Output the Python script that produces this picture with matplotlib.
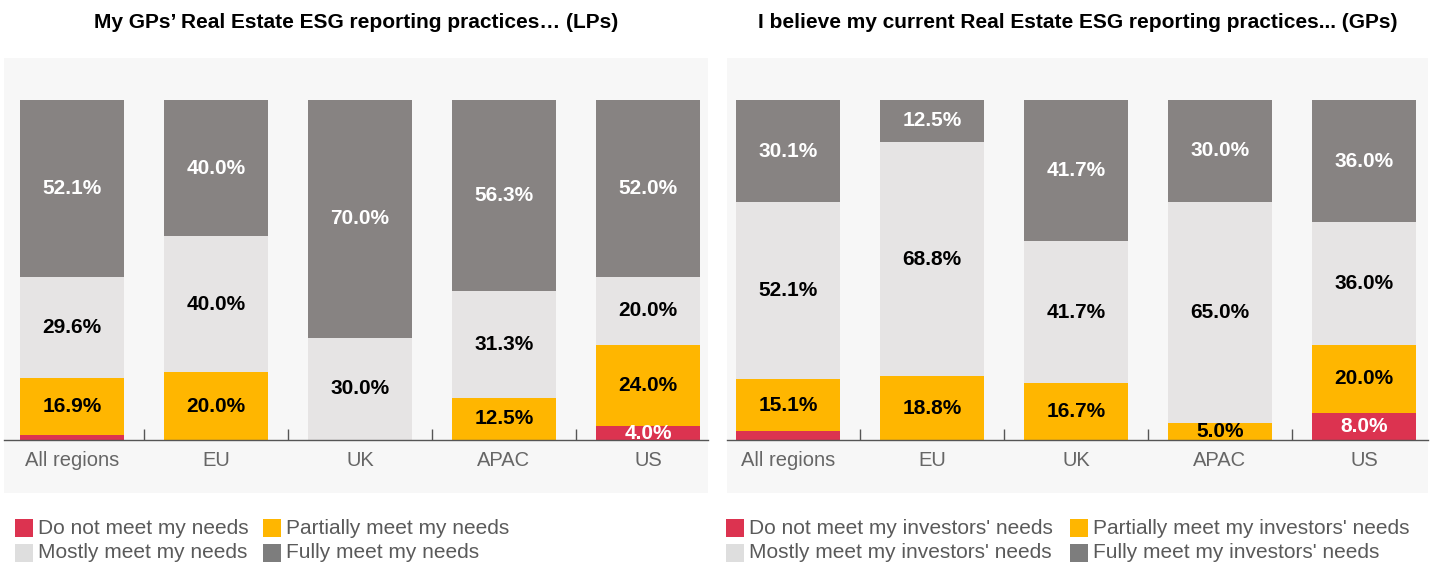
import matplotlib
matplotlib.use("Agg")
import matplotlib.pyplot as plt
from matplotlib.patches import Rectangle
import numpy as np

plt.rcParams['font.family'] = ['Liberation Sans', 'DejaVu Sans']

regions = ["All regions", "EU", "UK", "APAC", "US"]

# LP survey: "My GPs' Real Estate ESG reporting practices..."
lp_do_not = [1.4, 0.0, 0.0, 0.0, 4.0]
lp_partially = [16.9, 20.0, 0.0, 12.5, 24.0]
lp_mostly = [29.6, 40.0, 30.0, 31.3, 20.0]
lp_fully = [52.1, 40.0, 70.0, 56.3, 52.0]

# GP survey: "I believe my current Real Estate ESG reporting practices..."
gp_do_not = [2.7, 0.0, 0.0, 0.0, 8.0]
gp_partially = [15.1, 18.8, 16.7, 5.0, 20.0]
gp_mostly = [52.1, 68.8, 41.7, 65.0, 36.0]
gp_fully = [30.1, 12.5, 41.7, 30.0, 36.0]

lp_legend = ["Do not meet my needs", "Partially meet my needs",
             "Mostly meet my needs", "Fully meet my needs"]
gp_legend = ["Do not meet my investors' needs", "Partially meet my investors' needs",
             "Mostly meet my investors' needs", "Fully meet my investors' needs"]

lp_title = "My GPs\u2019 Real Estate ESG reporting practices\u2026 (LPs)"
gp_title = "I believe my current Real Estate ESG reporting practices... (GPs)"

colors = ["#dc3350", "#ffb600", "#e6e4e4", "#878382"]
legend_colors = ["#dc3350", "#ffb600", "#dedede", "#7d7d7d"]
text_colors = ["white", "black", "black", "white"]

W, H = 1432, 564
fig = plt.figure(figsize=(W / 100, H / 100), dpi=100)
fig.patch.set_facecolor("white")

BG = "#f7f7f7"
PX_PER_UNIT = 144.0   # horizontal pixels per category
PX_PER_PCT = 3.4      # vertical pixels per percentage point
BASE_Y = 440          # baseline, pixels from top


def px_axes(x0, x1, y0, y1):
    return fig.add_axes([x0 / W, 1 - y1 / H, (x1 - x0) / W, (y1 - y0) / H])


def draw_panel(x0, x1, first_center, series, title, legend_labels, legend_x, col2_x):
    y0, y1 = 58, 493
    ax = px_axes(x0, x1, y0, y1)
    ax.set_facecolor(BG)
    left = (x0 - first_center) / PX_PER_UNIT
    ax.set_xlim(left, left + (x1 - x0) / PX_PER_UNIT)
    ax.set_ylim(-(y1 - BASE_Y) / PX_PER_PCT, (BASE_Y - y0) / PX_PER_PCT)

    x = np.arange(len(regions))
    bottom = np.zeros(len(regions))
    for vals, col, tcol in zip(series, colors, text_colors):
        vals = np.array(vals)
        ax.bar(x, vals, width=0.72, bottom=bottom, color=col, linewidth=0, zorder=2)
        for xi, v, b in zip(x, vals, bottom):
            if v >= 4:
                ax.text(xi, b + v / 2, f"{v:.1f}%", ha="center", va="center",
                        fontsize=15, fontweight="bold", color=tcol, zorder=3)
        bottom = bottom + vals

    for s in ["top", "left", "right"]:
        ax.spines[s].set_visible(False)
    ax.spines["bottom"].set_position(("data", 0))
    ax.spines["bottom"].set_color("#555555")
    ax.spines["bottom"].set_linewidth(1)
    ax.spines["bottom"].set_zorder(4)
    ax.set_yticks([])
    ax.set_xticks(x[:-1] + 0.5)
    ax.set_xticklabels([])
    ax.tick_params(axis="x", direction="in", length=8, width=1, color="#555555")
    for xi, name in zip(x, regions):
        ax.text(xi, -21 / PX_PER_PCT, name, ha="center", va="center",
                fontsize=14.5, color="#666666")

    # panel title
    fig.text(((x0 + x1) / 2) / W, 1 - 22 / H, title, ha="center", va="center",
             fontsize=15, fontweight="bold", color="black")

    # legend: two rows of two entries
    col_offsets = [legend_x, col2_x]
    rows = [528, 553]
    for i, (lab, col) in enumerate(zip(legend_labels, legend_colors)):
        r, c = divmod(i, 2)
        sx = col_offsets[c]
        sy = rows[r]
        fig.patches.append(Rectangle((sx / W, 1 - (sy + 9) / H), 18 / W, 18 / H,
                                     transform=fig.transFigure, facecolor=col,
                                     edgecolor="none"))
        fig.text((sx + 23) / W, 1 - sy / H, lab, ha="left", va="center",
                 fontsize=15, color="#5a5a5a")


draw_panel(4, 708, 72, [lp_do_not, lp_partially, lp_mostly, lp_fully],
           lp_title, lp_legend, 15, 263)
draw_panel(727, 1428, 788, [gp_do_not, gp_partially, gp_mostly, gp_fully],
           gp_title, gp_legend, 726, 1070)

fig.savefig("out.png", dpi=100, facecolor="white")
